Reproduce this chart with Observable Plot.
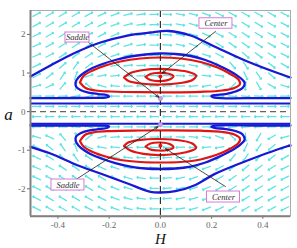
<!DOCTYPE html>
<html><head><meta charset="utf-8">
<script src="https://cdn.jsdelivr.net/npm/d3@7"></script>
<script src="https://cdn.jsdelivr.net/npm/@observablehq/plot@0.6"></script>
<style>body{margin:0;background:#fff;}</style>
</head><body><div id="chart"></div>
<script>
// ---------- data ----------
const xTicks = [-0.4, -0.2, 0, 0.2, 0.4];
const yTicks = [-2, -1, 0, 1, 2];

// blue outer curves [H, a]
const outerUp = [[-0.507,0.91],[-0.429,1.195],[-0.339,1.506],[-0.234,1.791],[-0.128,1.972],[-0.039,2.05],[0.032,2.089],[0.118,1.972],[0.211,1.687],[0.34,1.298],[0.496,0.91],[0.508,0.884]];
const outerDown = [[-0.507,-0.912],[-0.429,-1.086],[-0.324,-1.389],[-0.234,-1.604],[-0.128,-1.863],[-0.039,-2.078],[0.0,-2.096],[0.059,-2.06],[0.137,-1.90],[0.211,-1.62],[0.34,-1.267],[0.496,-0.897],[0.508,-0.878]];
// blue separatrix loops with tails
const loopUp = [[-0.507,0.352],[-0.39,0.352],[-0.253,0.358],[-0.214,0.365],[-0.2,0.391],[-0.21,0.43],[-0.242,0.456],[-0.281,0.495],[-0.312,0.56],[-0.329,0.65],[-0.331,0.754],[-0.32,0.884],[-0.296,1.014],[-0.265,1.13],[-0.226,1.233],[-0.176,1.337],[-0.117,1.428],[-0.058,1.48],[0,1.506],[0.059,1.493],[0.118,1.441],[0.176,1.337],[0.227,1.195],[0.274,1.04],[0.31,0.884],[0.329,0.741],[0.321,0.612],[0.293,0.521],[0.254,0.456],[0.215,0.43],[0.199,0.404],[0.211,0.365],[0.391,0.352],[0.508,0.352]];
const loopDown = [[-0.507,-0.36],[-0.39,-0.36],[-0.253,-0.36],[-0.214,-0.365],[-0.2,-0.386],[-0.21,-0.425],[-0.242,-0.456],[-0.281,-0.495],[-0.312,-0.56],[-0.329,-0.645],[-0.331,-0.749],[-0.32,-0.878],[-0.296,-1.008],[-0.265,-1.125],[-0.226,-1.228],[-0.176,-1.332],[-0.117,-1.423],[-0.058,-1.474],[0,-1.487],[0.059,-1.474],[0.118,-1.423],[0.176,-1.319],[0.227,-1.177],[0.274,-1.021],[0.31,-0.866],[0.329,-0.723],[0.321,-0.593],[0.293,-0.503],[0.254,-0.451],[0.215,-0.425],[0.199,-0.399],[0.211,-0.365],[0.391,-0.36],[0.508,-0.36]];
// straight blue lines
const flatLines = [0.21, -0.315];
// red closed orbits
const redUp = [
  [[-0.314,0.754],[-0.3,0.922],[-0.264,1.065],[-0.214,1.195],[-0.156,1.298],[-0.078,1.376],[0,1.402],[0.079,1.376],[0.157,1.285],[0.223,1.143],[0.274,0.974],[0.305,0.832],[0.311,0.715],[0.289,0.612],[0.243,0.547],[0.157,0.513],[0.04,0.5],[-0.078,0.503],[-0.194,0.521],[-0.253,0.547],[-0.292,0.612],[-0.314,0.754]],
  [[-0.142,0.884],[-0.117,1.0],[-0.066,1.078],[-0.007,1.109],[0.059,1.078],[0.11,1.026],[0.139,0.935],[0.125,0.819],[0.079,0.741],[0,0.702],[-0.078,0.728],[-0.124,0.793],[-0.142,0.884]],
  [[-0.058,0.897],[-0.039,0.974],[-0.007,1.005],[0.028,0.987],[0.051,0.922],[0.04,0.845],[0,0.793],[-0.039,0.819],[-0.058,0.897]]
];
const redDown = [
  [[-0.314,-0.762],[-0.3,-0.904],[-0.264,-1.047],[-0.214,-1.164],[-0.156,-1.254],[-0.078,-1.306],[0,-1.319],[0.079,-1.306],[0.157,-1.241],[0.223,-1.112],[0.274,-0.956],[0.305,-0.814],[0.311,-0.697],[0.289,-0.593],[0.243,-0.529],[0.157,-0.495],[0.04,-0.485],[-0.078,-0.49],[-0.194,-0.503],[-0.253,-0.529],[-0.292,-0.593],[-0.314,-0.762]],
  [[-0.142,-0.891],[-0.117,-1.008],[-0.066,-1.094],[-0.007,-1.125],[0.059,-1.099],[0.11,-1.034],[0.139,-0.943],[0.125,-0.827],[0.079,-0.749],[0,-0.71],[-0.078,-0.731],[-0.124,-0.796],[-0.142,-0.891]],
  [[-0.058,-0.904],[-0.039,-0.982],[-0.007,-1.008],[0.028,-0.995],[0.051,-0.93],[0.04,-0.852],[0,-0.801],[-0.039,-0.827],[-0.058,-0.904]]
];
// equilibria
const saddles = [[0, 0.34], [0, -0.34]];
const centers = [[0, 0.91], [0, -0.886]];

// direction field grid (H columns, a rows) and arrow angle (deg, screen, ccw from +H)
const hCols = [-0.483,-0.432,-0.381,-0.330,-0.279,-0.228,-0.177,-0.126,-0.075,-0.024,0.027,0.078,0.129,0.180,0.231,0.282,0.333,0.384,0.435,0.486];
const aRows = [2.52,2.255,1.99,1.725,1.46,1.195,0.93,0.665,0.40,0.135,-0.13,-0.395,-0.66,-0.925,-1.19,-1.455,-1.72,-1.985,-2.25,-2.515];
const fieldAngle = [
  [28,30,30,30,28,25,20,14,8,2,-3,-9,-15,-21,-26,-29,-30,-30,-29,-27],
  [28,30,31,31,29,26,21,15,8,2,-3,-10,-16,-22,-27,-30,-31,-31,-30,-28],
  [27,30,32,32,31,28,23,16,9,2,-4,-11,-18,-24,-29,-32,-33,-32,-30,-28],
  [25,29,32,34,34,31,25,17,9,2,-4,-12,-20,-27,-32,-35,-35,-33,-30,-27],
  [24,28,34,38,32,25,18,12,6,1,-3,-8,-14,-20,-28,-36,-40,-38,-32,-27],
  [25,32,42,55,35,22,12,7,3,0,-2,-6,-12,-22,-35,-50,-55,-48,-38,-30],
  [28,38,55,70,20,10,5,3,2,0,0,-2,-3,-5,-10,-20,-65,-55,-40,-30],
  [15,25,50,85,140,165,175,178,180,180,180,182,185,190,200,225,265,-60,-30,-15],
  [0,0,3,8,15,175,180,180,180,180,180,180,180,180,0,-5,-5,-3,0,0],
  [0,0,0,0,0,0,0,0,0,0,0,0,0,0,0,0,0,0,0,0],
  [180,180,180,180,180,180,180,180,180,180,180,180,180,180,180,180,180,180,180,180],
  [180,180,177,172,165,5,0,0,0,0,0,0,0,0,180,185,185,183,180,180],
  [165,155,130,95,40,15,5,2,0,0,0,-2,-5,-10,-20,-45,-85,240,210,195],
  [152,142,125,110,160,170,175,177,178,180,180,182,183,185,190,200,245,235,220,210],
  [155,148,138,125,145,158,168,173,177,180,182,186,192,202,215,230,235,228,218,210],
  [156,152,146,142,148,155,162,168,174,179,183,188,194,200,208,216,220,218,212,207],
  [155,151,148,146,146,149,155,163,171,178,184,192,200,207,212,215,215,213,210,207],
  [153,150,148,148,149,152,157,164,171,178,184,191,198,204,209,212,213,212,210,208],
  [152,150,149,149,151,154,159,165,172,178,183,190,196,202,207,210,211,211,210,208],
  [152,150,150,150,152,155,160,166,172,178,183,189,195,201,206,209,210,210,209,207]
];

// annotations
const annotText = ["Saddle", "Center", "Saddle", "Center"];
const annotAt = [[-0.3236,1.92],[0.217,2.283],[-0.3607,-1.902],[0.2464,-2.213]];
const annotFrom = [[-0.28,1.79],[0.215,2.076],[-0.3235,-1.733],[0.254,-1.941]];
const annotTo = [[-0.006,0.37],[0.008,1.0],[-0.01,-0.39],[0.02,-0.96]];

// ---------- layout ----------
const W = 297, HGT = 248, ml = 30, mr = 7, mt = 10, mb = 32.3;
const xDomain = [-0.507, 0.508], yDomain = [-2.71, 2.62];
const kx = (xDomain[1]-xDomain[0])/(W-ml-mr);
const ky = (yDomain[1]-yDomain[0])/(HGT-mt-mb);
const boxW = [24, 33, 33, 33], boxH = [10, 10.5, 11, 11];

const field = [];
aRows.forEach((a, i) => hCols.forEach((h, j) => field.push({h, a, r: 90 - fieldAngle[i][j]})));

const annots = annotText.map((t, i) => {
  const [x1, y1] = annotFrom[i], [x2, y2] = annotTo[i];
  return {
    t, x: annotAt[i][0], y: annotAt[i][1],
    bx1: annotAt[i][0] - boxW[i]/2*kx, bx2: annotAt[i][0] + boxW[i]/2*kx,
    by1: annotAt[i][1] - boxH[i]/2*ky, by2: annotAt[i][1] + boxH[i]/2*ky,
    x1, y1, x2, y2
  };
});

const BLUE = "#1818d6", RED = "#e01414", CYAN = "#5ee4e4";
const serif = "Liberation Serif, Times New Roman, serif";

const chart = Plot.plot({
  width: W, height: HGT,
  marginLeft: ml, marginRight: mr, marginTop: mt, marginBottom: mb,
  x: {domain: xDomain, ticks: xTicks, tickFormat: d => d.toFixed(1), tickSize: 3, tickPadding: 2, label: null},
  y: {domain: yDomain, ticks: yTicks, tickFormat: d => String(d), tickSize: 3, tickPadding: 2, label: null},
  style: {fontFamily: serif, fontSize: "9px", color: "#666", background: "#fff"},
  marks: [
    Plot.vector(field, {x: "h", y: "a", rotate: "r", length: 8.5, r: 1.8, anchor: "middle", stroke: CYAN, strokeWidth: 1.3}),
    Plot.ruleY([0], {stroke: "#666", strokeWidth: 1.1, strokeDasharray: "6,4"}),
    Plot.ruleY(flatLines, {stroke: BLUE, strokeWidth: 2}),
    Plot.line(outerUp, {x: d => d[0], y: d => d[1], stroke: BLUE, strokeWidth: 2.3, curve: "catmull-rom"}),
    Plot.line(outerDown, {x: d => d[0], y: d => d[1], stroke: BLUE, strokeWidth: 2.3, curve: "catmull-rom"}),
    Plot.line(loopUp, {x: d => d[0], y: d => d[1], stroke: BLUE, strokeWidth: 2.3, curve: "catmull-rom"}),
    Plot.line(loopDown, {x: d => d[0], y: d => d[1], stroke: BLUE, strokeWidth: 2.3, curve: "catmull-rom"}),
    ...redUp.concat(redDown).map(c => Plot.line(c, {x: d => d[0], y: d => d[1], stroke: RED, strokeWidth: 2.2, curve: "catmull-rom-closed"})),
    Plot.ruleX([0], {stroke: "#222", strokeWidth: 1.1, strokeDasharray: "7,4"}),
    Plot.dot(saddles, {x: d => d[0], y: d => d[1], r: 2.2, fill: "#c9a0e8", stroke: "#b080d0", strokeWidth: 0.6}),
    Plot.dot(centers, {x: d => d[0], y: d => d[1], r: 2, fill: RED}),
    Plot.arrow(annots, {x1: "x1", y1: "y1", x2: "x2", y2: "y2", stroke: "#222", strokeWidth: 0.8, headLength: 6, headAngle: 45}),
    Plot.rect(annots, {x1: "bx1", x2: "bx2", y1: "by1", y2: "by2", fill: "#fff", stroke: "#d77ad7", strokeWidth: 1}),
    Plot.text(annots, {x: "x", y: "y", text: "t", fontStyle: "italic", fontSize: 8.5, fill: "#333", fontFamily: serif}),
    Plot.frame({stroke: "#aaa", strokeWidth: 1}),
    Plot.ruleX([xDomain[0]], {stroke: "#808080", strokeWidth: 2}),
    Plot.ruleY([yDomain[0]], {stroke: "#808080", strokeWidth: 2}),
    Plot.text(["a"], {x: xDomain[0], y: 0, dx: -22, dy: 3, fontSize: 17, fontStyle: "italic", fill: "#111", fontFamily: serif}),
    Plot.text(["H"], {x: 0, frameAnchor: "bottom", lineAnchor: "top", dy: 17, fontSize: 15, fontStyle: "italic", fill: "#111", fontFamily: serif})
  ]
});
document.getElementById("chart").appendChild(chart);
</script></body></html>
